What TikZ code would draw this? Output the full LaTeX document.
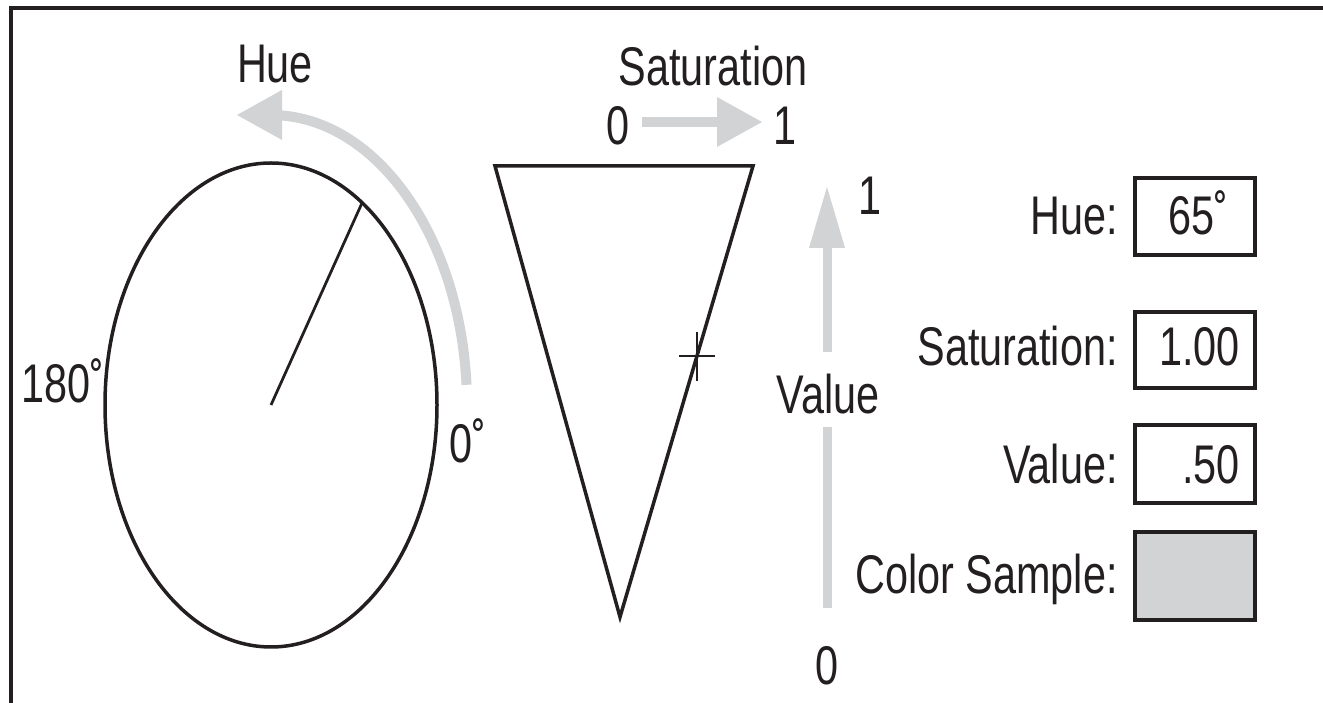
\documentclass[tikz,border=0pt]{standalone}
\usepackage{fontspec}
\setmainfont{Liberation Sans}[FakeStretch=0.76]
\definecolor{ink}{HTML}{231F20}
\definecolor{lightgr}{HTML}{D1D3D4}
\newcommand{\bigtxt}{\fontsize{31}{36}\selectfont}
\tikzset{
  ln/.style={line width=0.07cm, draw=ink},
  thinln/.style={line width=0.055cm, draw=ink},
  frame/.style={line width=0.07cm, draw=ink},
  grline/.style={line width=0.2cm, draw=lightgr},
  grhead/.style={fill=lightgr, draw=none},
  txt/.style={inner sep=0pt, font=\bigtxt, text=ink},
  vbox/.style={draw=ink, line width=0.065cm, inner sep=0pt, minimum width=2.4cm},
}
\begin{document}
\begin{tikzpicture}[x=0.02cm, y=0.02cm]
\useasboundingbox (0,0) rectangle (1323,703);
% frame
\draw[frame] (11,-5) -- (11,695) -- (1330,695);

% hue wheel
\coordinate (wc) at (271,298);
\coordinate (wp) at (362,500);
\draw[ln] (wc) ellipse[x radius=166, y radius=242];
\draw[thinln] (wc) -- (wp);
% hue arc arrow
\draw[grline] (466.5,318.2) arc[start angle=4, end angle=87, x radius=196, y radius=290];
\coordinate (ht) at (237,588);
\coordinate (hb1) at (282,613);
\coordinate (hb2) at (282,563);
\fill[grhead] (ht) -- (hb1) -- (hb2) -- cycle;
\node[txt, anchor=base] (hue) at (275,620) {Hue};
\node[txt, anchor=base] (d180) at (63,300) {180˚};
\node[txt, anchor=base] (d0) at (468,240) {0˚};

% saturation / value triangle
\coordinate (t1) at (495,537);
\coordinate (t2) at (753,537);
\coordinate (t3) at (620,86);
\draw[ln, line join=miter] (t1) -- (t2) -- (t3) -- cycle;
\coordinate (cr) at (697,347);
\draw[thinln] ([xshift=-18*0.02cm]cr) -- ([xshift=18*0.02cm]cr);
\draw[thinln] ([yshift=-25*0.02cm]cr) -- ([yshift=24*0.02cm]cr);

% saturation arrow
\node[txt, anchor=base] (sat) at (713,617) {Saturation};
\node[txt, anchor=base] (s0) at (618,558) {0};
\node[txt, anchor=base] (s1) at (785,558) {1};
\coordinate (ss) at (642,581);
\coordinate (se) at (718,581);
\draw[grline] (ss) -- (se);
\fill[grhead] (762,581) -- (717,606) -- (717,556) -- cycle;

% value arrow
\node[txt, anchor=base] (val) at (828,289) {Value};
\node[txt, anchor=base] (v1) at (870,488) {1};
\node[txt, anchor=base] (v0) at (827,18) {0};
\draw[grline, line width=0.18cm] (827,351) -- (827,456);
\fill[grhead] (827,516) -- (845,455) -- (809,455) -- cycle;
\draw[grline, line width=0.18cm] (827,276) -- (827,95);

% fields
\node[txt, anchor=base east] (lh) at (1118,468) {Hue:};
\node[txt, anchor=base east] (ls) at (1118,337) {Saturation:};
\node[txt, anchor=base east] (lv) at (1118,219) {Value:};
\node[txt, anchor=base east] (lc) at (1118,109) {Color Sample:};

\node[vbox, minimum height=1.54cm] (bh) at (1195,486.5) {};
\node[vbox, minimum height=1.52cm] (bs) at (1195,353) {};
\node[vbox, minimum height=1.56cm] (bv) at (1195,239) {};
\node[vbox, minimum height=1.76cm, fill=lightgr] (bc) at (1195,127) {};

\node[txt, anchor=base east] (vh) at (1229,468) {65˚};
\node[txt, anchor=base east] (vs) at (1240,337) {1.00};
\node[txt, anchor=base east] (vv) at (1240,219) {.50};
\end{tikzpicture}
\end{document}
